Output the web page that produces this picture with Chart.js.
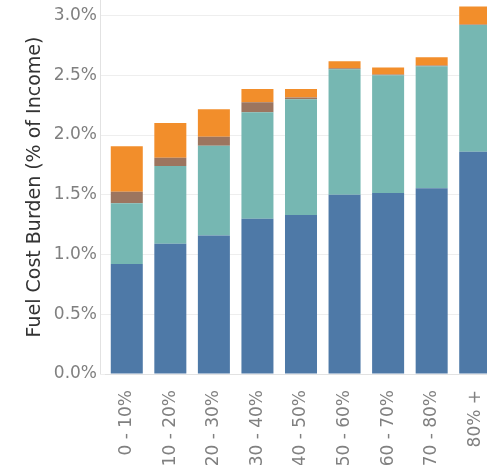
<!DOCTYPE html>
<html>
<head>
<meta charset="utf-8">
<script src="https://cdn.jsdelivr.net/npm/chart.js@4"></script>
<style>
  html, body { margin: 0; padding: 0; background: #fff; overflow: hidden; }
  #wrap { width: 497px; height: 465px; }
</style>
</head>
<body>
<div id="wrap"><canvas id="burden" width="497" height="465"></canvas></div>
<script>
// income bands (x axis)
const categories = ['0 - 10%', '10 - 20%', '20 - 30%', '30 - 40%', '40 - 50%',
                    '50 - 60%', '60 - 70%', '70 - 80%', '80% +'];

// stacked segments, % of income, bottom to top
const blueVals   = [0.92, 1.09, 1.16, 1.30, 1.33, 1.50, 1.515, 1.555, 1.86];
const tealVals   = [0.51, 0.65, 0.75, 0.89, 0.97, 1.05, 0.985, 1.02, 1.06];
const brownVals  = [0.095, 0.07, 0.075, 0.085, 0.015, 0.008, 0.006, 0.006, 0.006];
const orangeVals = [0.38, 0.29, 0.23, 0.11, 0.07, 0.06, 0.06, 0.07, 0.15];

const yTicks = [0, 0.5, 1.0, 1.5, 2.0, 2.5, 3.0];

const tickFont = { family: 'DejaVu Sans', size: 17 };
const tickColor = '#808080';

function seg(data, color) {
  return {
    data: data,
    backgroundColor: color,
    borderWidth: 0,
    categoryPercentage: 1,
    barPercentage: 0.735
  };
}

// the axis line sits a few px left of the first band, like the original
const axisLine = {
  id: 'axisLine',
  afterDraw(chart) {
    const { ctx, chartArea } = chart;
    const x = chartArea.left - 4.5;
    ctx.save();
    ctx.strokeStyle = '#e2e2e2';
    ctx.lineWidth = 1;
    ctx.beginPath();
    ctx.moveTo(x, chartArea.top);
    ctx.lineTo(x, chartArea.bottom);
    ctx.stroke();
    ctx.restore();
  }
};

new Chart(document.getElementById('burden').getContext('2d'), {
  type: 'bar',
  data: {
    labels: categories,
    datasets: [
      seg(blueVals, '#4e79a7'),
      seg(tealVals, '#76b7b2'),
      seg(brownVals, '#9c755f'),
      seg(orangeVals, '#f28e2b')
    ]
  },
  plugins: [axisLine],
  options: {
    responsive: false,
    devicePixelRatio: 1,
    animation: false,
    layout: { padding: 0 },
    plugins: {
      legend: { display: false },
      tooltip: { enabled: false }
    },
    scales: {
      x: {
        stacked: true,
        grid: { display: false },
        border: { display: true, color: '#e2e2e2' },
        ticks: {
          font: tickFont,
          color: tickColor,
          minRotation: 90,
          maxRotation: 90,
          padding: 8,
          autoSkip: false
        },
        afterFit: (s) => {
          s.height = 91;
          s.paddingLeft = 0;
          s.paddingRight = 0;
        }
      },
      y: {
        stacked: true,
        min: 0,
        max: 3.13,
        grid: { color: '#eeeeee', drawTicks: true, tickLength: 5, tickColor: '#eeeeee' },
        border: { display: false },
        ticks: {
          font: tickFont,
          color: tickColor,
          padding: 3,
          callback: (v) => v.toFixed(1) + '%'
        },
        afterBuildTicks: (s) => {
          s.ticks = yTicks.map(v => ({ value: v }));
        },
        afterFit: (s) => {
          s.width = 105;
          s.paddingTop = 0;
          s.paddingBottom = 0;
        },
        title: {
          display: true,
          text: 'Fuel Cost Burden (% of Income)',
          color: '#333333',
          font: { family: 'DejaVu Sans', size: 19 },
          padding: { top: 24, bottom: 0 }
        }
      }
    }
  }
});
</script>
</body>
</html>
